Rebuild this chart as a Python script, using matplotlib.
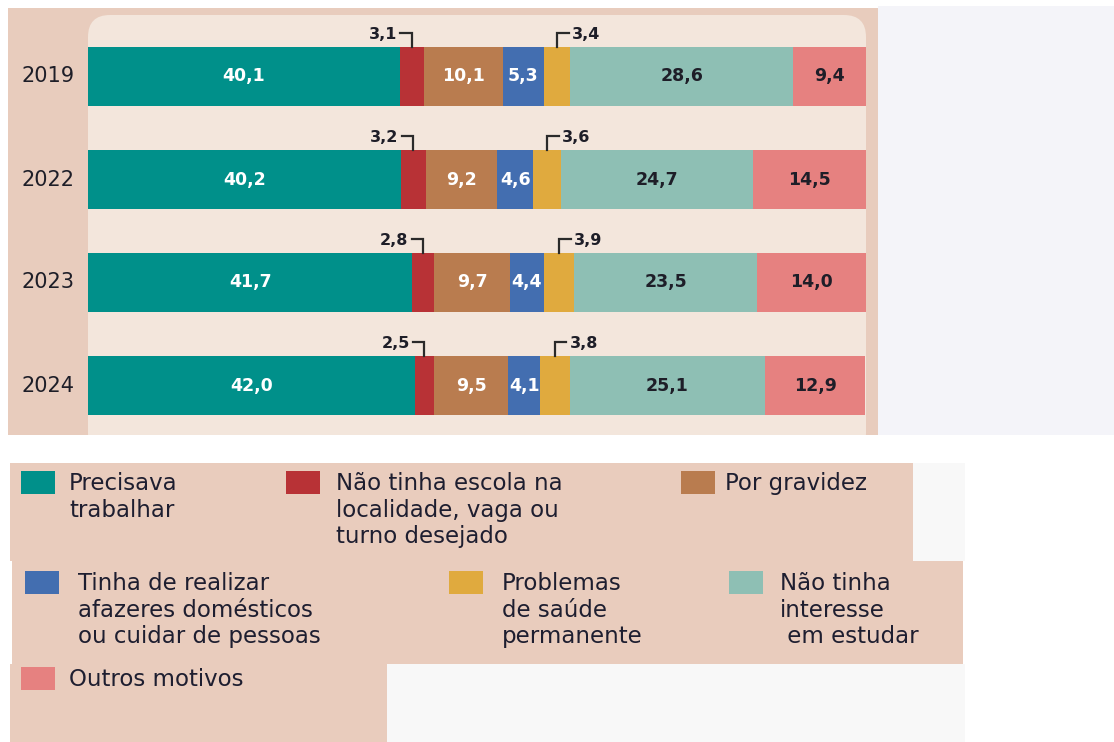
import numpy as np
import matplotlib.pyplot as plt
from matplotlib.patches import Rectangle, FancyBboxPatch

# data
years = ["2019", "2022", "2023", "2024"]
motivos = ["Precisava\ntrabalhar",
           "Não tinha escola na\nlocalidade, vaga ou\nturno desejado",
           "Por gravidez",
           "Tinha de realizar\nafazeres domésticos\nou cuidar de pessoas",
           "Problemas\nde saúde\npermanente",
           "Não tinha\ninteresse\n em estudar",
           "Outros motivos"]
precisava = [40.1, 40.2, 41.7, 42.0]
sem_escola = [3.1, 3.2, 2.8, 2.5]
gravidez = [10.1, 9.2, 9.7, 9.5]
afazeres = [5.3, 4.6, 4.4, 4.1]
saude = [3.4, 3.6, 3.9, 3.8]
sem_interesse = [28.6, 24.7, 23.5, 25.1]
outros = [9.4, 14.5, 14.0, 12.9]

series = [precisava, sem_escola, gravidez, afazeres, saude, sem_interesse, outros]
colors = ["#00908a", "#b83236", "#b97c4f", "#436eb0", "#e0aa3e", "#8ebfb4", "#e68180"]
txt_colors = ["white", None, "white", "white", None, "#1e1e28", "#1e1e28"]

W, H = 1114, 742
fig = plt.figure(figsize=(W / 100, H / 100), dpi=100)
fig.patch.set_facecolor("white")

# background axes in pixel units
bg = fig.add_axes([0, 0, 1, 1])
bg.set_xlim(0, W)
bg.set_ylim(H, 0)
bg.axis("off")

bg.add_patch(Rectangle((878, 6), 236, 429, color="#f4f4f9", lw=0))
outer = Rectangle((8, 8), 870, 427, color="#e8ccbd", lw=0)
bg.add_patch(outer)
inner = FancyBboxPatch((88, 15), 778, 440, boxstyle="round,pad=0,rounding_size=22",
                       fc="#f3e6dc", ec="none")
bg.add_patch(inner)
inner.set_clip_path(outer)

# legend backgrounds
bg.add_patch(Rectangle((913, 463), 52, 98, color="#f8f8f8", lw=0))
bg.add_patch(Rectangle((387, 664), 578, 78, color="#f8f8f8", lw=0))
bg.add_patch(Rectangle((10, 463), 903, 98, color="#e9ccbd", lw=0))
bg.add_patch(Rectangle((12, 561), 951, 103, color="#e9ccbd", lw=0))
bg.add_patch(Rectangle((10, 664), 377, 78, color="#e9ccbd", lw=0))

# legend entries: (square x, square y, text x)
leg_pos = [(21, 471, 69), (286, 471, 336), (681, 471, 725),
           (25, 571, 78), (449, 571, 502), (729, 571, 780),
           (21, 667, 69)]
for (sx, sy, tx), lab, c in zip(leg_pos, motivos, colors):
    bg.add_patch(Rectangle((sx, sy), 34, 23, color=c, lw=0))
    bg.text(tx, sy + 1, lab, va="top", ha="left", fontsize=16.5, family="DejaVu Sans",
            color="#1e1e30", linespacing=1.2)

# bars
ax = fig.add_axes([88 / W, 1 - 437 / H, 778 / W, 412 / H])
ax.set_xlim(0, 100)
ax.set_ylim(3.5, -0.5)
ax.axis("off")
y = np.arange(len(years))
h = 0.57
left = np.zeros(len(years))
for i, (vals, c) in enumerate(zip(series, colors)):
    vals = np.array(vals)
    ax.barh(y, vals, left=left, height=h, color=c, lw=0)
    centers = left + vals / 2
    for j in range(len(years)):
        s = f"{vals[j]:.1f}".replace(".", ",")
        if txt_colors[i] is not None:
            ax.text(centers[j], y[j], s, ha="center", va="center", color=txt_colors[i],
                    fontsize=12.5, fontweight="bold")
        else:
            top = y[j] - h / 2
            ly = y[j] - 0.42
            if i == 1:
                ax.plot([centers[j], centers[j], centers[j] - 1.5], [top, ly, ly],
                        color="#2a2a2a", lw=1.6, solid_joinstyle="miter")
                ax.text(centers[j] - 1.9, ly + 0.01, s, ha="right", va="center",
                        fontsize=11.5, fontweight="bold", color="#1e1e28")
            else:
                ax.plot([centers[j], centers[j], centers[j] + 1.5], [top, ly, ly],
                        color="#2a2a2a", lw=1.6, solid_joinstyle="miter")
                ax.text(centers[j] + 1.9, ly + 0.01, s, ha="left", va="center",
                        fontsize=11.5, fontweight="bold", color="#1e1e28")
    left = left + vals

for j, yr in enumerate(years):
    ax.text(-1.7, y[j], yr, ha="right", va="center", fontsize=15, color="#1e1e28")

fig.savefig("out.png", dpi=100)
